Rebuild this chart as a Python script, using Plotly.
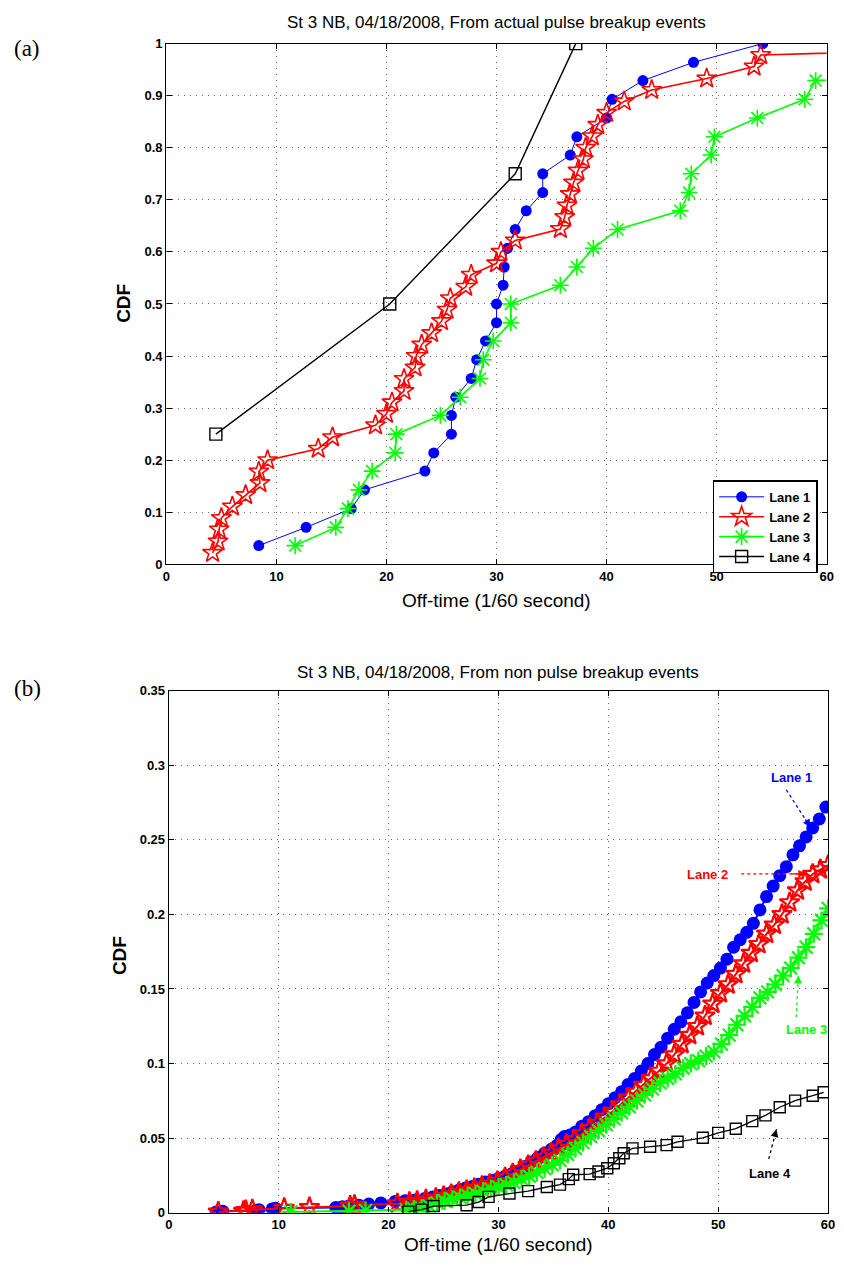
import plotly.graph_objects as go

# ---------------- Panel (a): actual pulse breakup events ----------------
a_lane1_x = [8.4, 12.7, 16.8, 18.0, 23.5, 24.3, 25.9, 25.9, 26.3, 27.7, 28.2, 29.0, 30.0, 30.0,
             30.6, 30.7, 31.0, 31.7, 32.7, 34.2, 34.2, 36.7, 37.3, 40.0, 40.5, 43.3, 47.9, 54.2]
a_lane1_y = [0.036, 0.071, 0.107, 0.143, 0.179, 0.214, 0.250, 0.286, 0.321, 0.357, 0.393, 0.429, 0.464, 0.500,
             0.536, 0.571, 0.607, 0.643, 0.679, 0.714, 0.750, 0.786, 0.821, 0.857, 0.893, 0.929, 0.964, 1.000]

a_lane2_x = [4.2, 4.7, 4.8, 5.0, 6.0, 7.2, 8.5, 8.4, 9.2, 13.8, 15.1, 19.0, 20.0, 20.5, 21.6, 21.6,
             22.6, 22.7, 23.2, 24.1, 25.0, 25.5, 25.8, 27.2, 27.7, 30.0, 30.4, 31.7, 35.8, 36.2, 36.4,
             36.7, 37.0, 37.4, 37.9, 38.1, 38.7, 39.2, 40.0, 41.6, 44.1, 49.1, 53.4, 54.0, 90.0]
a_lane2_y = [0.022, 0.044, 0.067, 0.089, 0.111, 0.133, 0.156, 0.178, 0.200, 0.222, 0.244, 0.267, 0.289,
             0.311, 0.333, 0.356, 0.378, 0.400, 0.422, 0.444, 0.467, 0.489, 0.511, 0.533, 0.556, 0.578,
             0.600, 0.622, 0.644, 0.667, 0.689, 0.711, 0.733, 0.756, 0.778, 0.800, 0.822, 0.844, 0.867,
             0.889, 0.911, 0.933, 0.956, 0.978, 1.000]

a_lane3_x = [11.7, 15.4, 16.5, 17.5, 18.7, 20.8, 20.9, 24.9, 26.7, 28.5, 28.8, 29.7, 31.3, 31.3,
             35.8, 37.3, 38.8, 41.0, 46.7, 47.5, 47.7, 49.5, 49.8, 53.7, 58.0, 59.0, 90.0]
a_lane3_y = [0.036, 0.071, 0.107, 0.143, 0.179, 0.214, 0.250, 0.286, 0.321, 0.357, 0.393, 0.429, 0.464,
             0.500, 0.536, 0.571, 0.607, 0.643, 0.679, 0.714, 0.750, 0.786, 0.821, 0.857, 0.893, 0.929, 0.964]

a_lane4_x = [4.5, 20.3, 31.7, 37.2]
a_lane4_y = [0.25, 0.50, 0.75, 1.00]

# ---------------- Panel (b): non pulse breakup events ----------------
b_lane1_x = [4.3, 4.9, 7.9, 8.2, 9.4, 9.7, 15.2, 15.8, 16.4, 17.3, 18.2, 19.3, 20.6, 21.5, 22.4, 23.3,
             24.0, 24.6, 25.2, 25.8, 26.4, 27.0, 27.6, 28.2, 28.8, 29.4, 30.0, 30.6, 31.2, 31.8, 32.4,
             33.0, 33.6, 34.2, 34.8, 35.3, 35.7, 36.0, 36.5, 37.0, 37.6, 38.2, 38.8, 39.4, 40.0, 40.6,
             41.2, 41.8, 42.4, 43.0, 43.6, 44.2, 44.8, 45.4, 46.0, 46.6, 47.2, 47.8, 48.4, 49.0, 49.6,
             50.2, 50.8, 51.4, 52.0, 52.6, 53.2, 53.8, 54.4, 55.0, 55.6, 56.2, 56.8, 57.4, 58.0, 58.6,
             59.2, 59.8]
b_lane1_y = [0.0005, 0.001, 0.0015, 0.002, 0.0025, 0.003, 0.0035, 0.004, 0.0045, 0.005, 0.0058, 0.0065,
             0.0075, 0.008, 0.0085, 0.0095, 0.0105, 0.0115, 0.0125, 0.014, 0.0152, 0.0165, 0.0175, 0.019,
             0.0205, 0.0215, 0.023, 0.0245, 0.026, 0.028, 0.031, 0.034, 0.037, 0.040, 0.0425, 0.045,
             0.049, 0.051, 0.052, 0.054, 0.058, 0.061, 0.065, 0.069, 0.073, 0.077, 0.081, 0.086, 0.090,
             0.095, 0.100, 0.106, 0.111, 0.117, 0.123, 0.128, 0.134, 0.141, 0.148, 0.154, 0.159, 0.164,
             0.170, 0.178, 0.183, 0.188, 0.194, 0.203, 0.212, 0.219, 0.226, 0.232, 0.240, 0.246, 0.252,
             0.258, 0.264, 0.272]

b_lane2_x = [4.5, 6.8, 7.0, 7.6, 10.5, 12.8, 16.5, 16.9, 20.8, 21.9, 22.6, 23.4, 24.3, 25.0, 25.7, 26.4,
             27.1, 27.8, 28.5, 29.2, 29.9, 30.6, 31.3, 32.0, 32.7, 33.4, 34.1, 34.8, 35.5, 36.2, 36.9,
             37.6, 38.3, 39.0, 39.7, 40.4, 41.1, 41.8, 42.5, 43.2, 43.9, 44.6, 45.3, 46.0, 46.7, 47.4,
             48.1, 48.8, 49.5, 50.2, 50.9, 51.6, 52.3, 53.0, 53.7, 54.4, 55.1, 55.8, 56.5, 57.2, 57.9,
             58.6, 59.3, 60.0]
b_lane2_y = [0.0005, 0.001, 0.0015, 0.002, 0.003, 0.0035, 0.0045, 0.005, 0.006, 0.007, 0.0078, 0.0088,
             0.0098, 0.011, 0.0122, 0.0138, 0.015, 0.0163, 0.0178, 0.0192, 0.021, 0.0235, 0.0262, 0.029,
             0.0318, 0.0345, 0.037, 0.040, 0.043, 0.046, 0.049, 0.053, 0.0565, 0.060, 0.064, 0.068,
             0.0725, 0.077, 0.081, 0.0855, 0.090, 0.095, 0.100, 0.106, 0.113, 0.119, 0.125, 0.132,
             0.140, 0.147, 0.153, 0.160, 0.167, 0.174, 0.180, 0.187, 0.193, 0.200, 0.208, 0.216,
             0.222, 0.227, 0.230, 0.233]

b_lane3_x = [11.1, 16.4, 17.9, 21.6, 22.3, 23.0, 23.7, 24.4, 25.1, 25.8, 26.5, 27.2, 27.9, 28.6, 29.3,
             30.0, 30.7, 31.4, 32.1, 32.8, 33.5, 34.2, 34.9, 35.6, 36.3, 37.0, 37.7, 38.4, 39.1, 39.8,
             40.5, 41.2, 41.9, 42.6, 43.3, 44.0, 44.7, 45.4, 46.1, 46.8, 47.5, 48.2, 48.9, 49.6, 50.3,
             51.0, 51.7, 52.4, 53.1, 53.8, 54.5, 55.2, 55.9, 56.6, 57.3, 58.0, 58.7, 59.4, 60.0]
b_lane3_y = [0.0005, 0.001, 0.0015, 0.002, 0.0025, 0.003, 0.0045, 0.0065, 0.0078, 0.009, 0.0102, 0.0115,
             0.0128, 0.0143, 0.0158, 0.0172, 0.0186, 0.0202, 0.0225, 0.0245, 0.027, 0.0295, 0.032, 0.035,
             0.039, 0.043, 0.047, 0.051, 0.055, 0.059, 0.063, 0.067, 0.071, 0.075, 0.079, 0.083, 0.087,
             0.090, 0.093, 0.097, 0.100, 0.102, 0.105, 0.108, 0.113, 0.119, 0.126, 0.132, 0.138, 0.144,
             0.148, 0.153, 0.159, 0.164, 0.171, 0.178, 0.187, 0.196, 0.204]

b_lane4_x = [21.8, 23.0, 24.1, 27.1, 28.2, 29.1, 31.0, 32.7, 34.4, 35.6, 36.4, 36.8, 38.3, 39.1, 39.9,
             40.5, 41.0, 41.4, 42.2, 43.8, 45.3, 46.3, 48.6, 50.0, 51.6, 53.1, 54.3, 55.6, 57.0, 58.6, 59.6]
b_lane4_y = [0.0007, 0.002, 0.0044, 0.0050, 0.0071, 0.0106, 0.0128, 0.0144, 0.0172, 0.0188, 0.0225,
             0.0254, 0.0258, 0.0276, 0.0298, 0.0331, 0.0365, 0.0398, 0.0431, 0.0442, 0.0453, 0.0475,
             0.0502, 0.0535, 0.0563, 0.0614, 0.0652, 0.0707, 0.0751, 0.0784, 0.0807]

lane_names = ["Lane 1", "Lane 2", "Lane 3", "Lane 4"]
lane_colors = ["#0000ff", "#ff0000", "#00ff00", "#000000"]

FONT = "Liberation Sans, Arial, sans-serif"

fig = go.Figure()

# panel (a) traces
a_sets = [(a_lane1_x, a_lane1_y), (a_lane2_x, a_lane2_y), (a_lane3_x, a_lane3_y), (a_lane4_x, a_lane4_y)]
a_markers = [
    dict(symbol="circle", size=11, color=lane_colors[0], line=dict(width=0)),
    dict(symbol="star-open", size=15, color=lane_colors[1], line=dict(width=1.6, color=lane_colors[1])),
    dict(symbol="asterisk-open", size=14, color=lane_colors[2], line=dict(width=1.6, color=lane_colors[2])),
    dict(symbol="square-open", size=12, color=lane_colors[3], line=dict(width=1.4, color=lane_colors[3])),
]
a_widths = [1.0, 1.6, 1.6, 1.4]
for i, (xs, ys) in enumerate(a_sets):
    fig.add_trace(go.Scatter(x=xs, y=ys, mode="lines+markers", name=lane_names[i],
                             line=dict(color=lane_colors[i], width=a_widths[i]),
                             marker=a_markers[i], xaxis="x", yaxis="y"))

# panel (b) traces
b_sets = [(b_lane1_x, b_lane1_y), (b_lane2_x, b_lane2_y), (b_lane3_x, b_lane3_y), (b_lane4_x, b_lane4_y)]
b_markers = [
    dict(symbol="circle", size=13, color=lane_colors[0], line=dict(width=0)),
    dict(symbol="star-open", size=15, color=lane_colors[1], line=dict(width=2.2, color=lane_colors[1])),
    dict(symbol="asterisk-open", size=15, color=lane_colors[2], line=dict(width=2.2, color=lane_colors[2])),
    dict(symbol="square-open", size=11, color=lane_colors[3], line=dict(width=1.4, color=lane_colors[3])),
]
b_widths = [2.0, 2.0, 2.0, 1.3]
for i, (xs, ys) in enumerate(b_sets):
    fig.add_trace(go.Scatter(x=xs, y=ys, mode="lines+markers", name=lane_names[i], showlegend=False,
                             line=dict(color=lane_colors[i], width=b_widths[i]),
                             marker=b_markers[i], xaxis="x2", yaxis="y2"))

axis_common = dict(
    showgrid=True, gridcolor="#666666", griddash="1px,5px", gridwidth=1,
    showline=True, linecolor="black", linewidth=1.3, mirror="ticks",
    ticks="inside", ticklen=5, tickcolor="black", tickwidth=1,
    zeroline=False, tickfont=dict(family=FONT, size=13, color="black", weight="bold"),
)

fig.update_layout(
    width=844, height=1268,
    margin=dict(l=0, r=0, t=0, b=0),
    paper_bgcolor="white", plot_bgcolor="white",
    xaxis=dict(domain=[0.1949, 0.9876], anchor="y", range=[0, 60], dtick=10, **axis_common),
    yaxis=dict(domain=[0.5552, 0.9708], anchor="x", range=[0, 1], dtick=0.1, **axis_common),
    xaxis2=dict(domain=[0.1979, 0.9893], anchor="y2", range=[0, 60], dtick=10, **axis_common),
    yaxis2=dict(domain=[0.0378, 0.4543], anchor="x2", range=[0, 0.35], dtick=0.05, **axis_common),
    showlegend=True,
    legend=dict(x=0.8507, y=0.6222, xanchor="left", yanchor="top",
                bgcolor="white", bordercolor="black", borderwidth=1.5,
                font=dict(family=FONT, size=13, color="black", weight="bold"),
                tracegroupgap=0, itemwidth=45),
)

ann = []
def txt(x, y, text, size, bold=False, family=FONT, color="black", angle=0, xanchor="center"):
    ann.append(dict(x=x, y=y, xref="paper", yref="paper", text=text, showarrow=False,
                    xanchor=xanchor, yanchor="middle", textangle=angle,
                    font=dict(family=family, size=size, color=color, weight="bold" if bold else "normal")))

W, H = 844.0, 1268.0
txt(499 / W, 1 - 16 / H, "St 3 NB, 04/18/2008, From actual pulse breakup events", 17)
txt(501 / W, 1 - 673 / H, "St 3 NB, 04/18/2008, From non pulse breakup events", 17)
txt(499 / W, 1 - 601 / H, "Off-time (1/60 second)", 19)
txt(501 / W, 1 - 1252 / H, "Off-time (1/60 second)", 19)
txt(121 / W, 1 - 300 / H, "CDF", 19, bold=True, angle=-90)
txt(117 / W, 1 - 960 / H, "CDF", 19, bold=True, angle=-90)
txt(8 / W, 1 - 42 / H, "(a)", 23, family="Liberation Serif, Times New Roman, serif", xanchor="left")
txt(8 / W, 1 - 690 / H, "(b)", 23, family="Liberation Serif, Times New Roman, serif", xanchor="left")

# lane labels with dotted arrows in panel (b)
lab = [
    ("Lane 1", lane_colors[0], 56.7, 0.2917, 56.2, 0.2835, 58.4, 0.2585),
    ("Lane 2", lane_colors[1], 49.0, 0.2267, 52.1, 0.2272, 58.0, 0.2272),
    ("Lane 3", lane_colors[2], 58.0, 0.1226, 57.1, 0.1310, 57.3, 0.1590),
    ("Lane 4", "#000000", 54.7, 0.0265, 54.6, 0.0360, 55.3, 0.0560),
]
shapes = []
for name, col, tx, ty, x0, y0, x1, y1 in lab:
    ann.append(dict(x=tx, y=ty, xref="x2", yref="y2", text=name, showarrow=False,
                    font=dict(family=FONT, size=13, color=col, weight="bold")))
    shapes.append(dict(type="line", xref="x2", yref="y2", x0=x0, y0=y0, x1=x1, y1=y1,
                       line=dict(color=col, width=1.3, dash="dot")))
    ann.append(dict(x=x1, y=y1, xref="x2", yref="y2", ax=x0 + (x1 - x0) * 0.75, ay=y0 + (y1 - y0) * 0.75,
                    axref="x2", ayref="y2", text="", showarrow=True, arrowhead=2, arrowsize=1.3,
                    arrowwidth=1.2, arrowcolor=col))

fig.update_layout(annotations=ann, shapes=shapes)
fig.write_html("out.html")
